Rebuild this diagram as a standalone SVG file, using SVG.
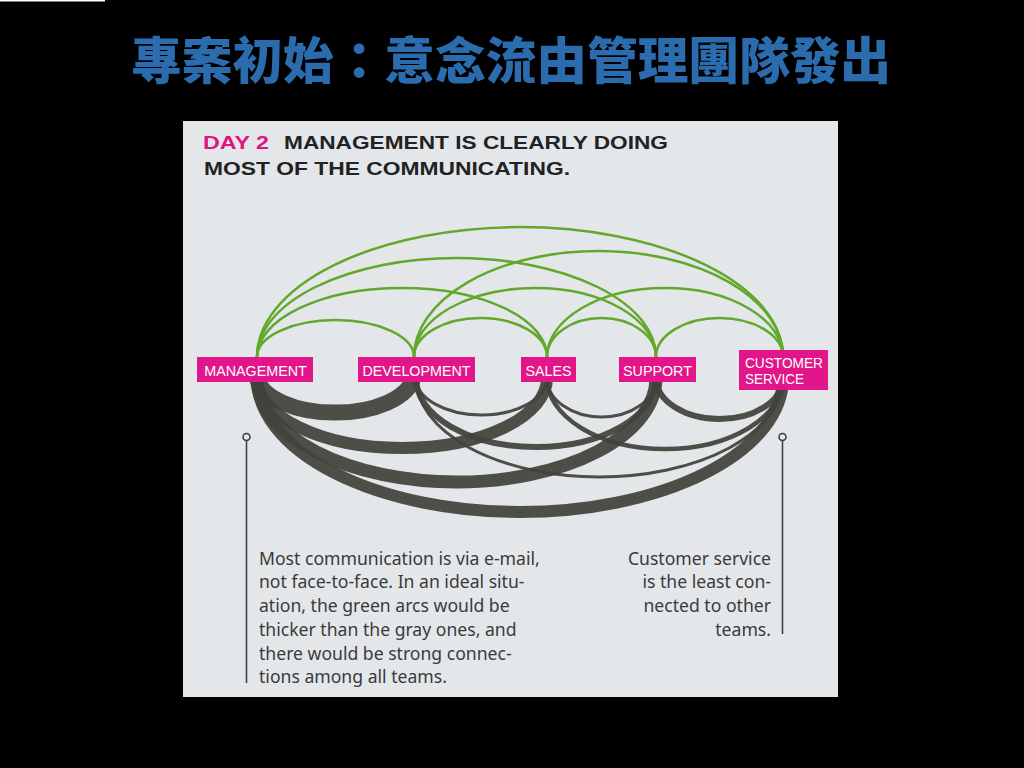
<svg xmlns="http://www.w3.org/2000/svg" width="1024" height="768" viewBox="0 0 1024 768">
<style>
.title{font-family:"Noto Sans CJK TC","Noto Sans CJK SC",sans-serif;font-weight:900;font-size:50px;fill:#2a6cad}
.head{font-family:"Liberation Sans",Arial,sans-serif;font-weight:bold;font-size:18px;fill:#222}
.day{fill:#e0137f}
.lbl{font-family:"Liberation Sans",Arial,sans-serif;font-size:14.3px;fill:#fff;text-anchor:middle}
.box{fill:#e2168a}
.note{font-family:"Noto Sans","Open Sans",sans-serif;font-size:17.6px;fill:#3a3a3a}
.g{fill:none;stroke:#62a82c;stroke-width:2.5}
.k{fill:none;stroke:#43423b;stroke-opacity:0.93}
.pin{fill:none;stroke:#3a3a3a;stroke-width:1.5}
</style>
<rect x="0" y="0" width="1024" height="768" fill="#000"/>
<rect x="0" y="0" width="105" height="1.5" fill="#fff"/>
<text class="title" x="511" y="79" text-anchor="middle" textLength="760" lengthAdjust="spacingAndGlyphs">專案初始：意念流由管理團隊發出</text>
<rect x="183" y="121" width="655" height="576" fill="#e4e7ea"/>
<text class="head" x="203" y="149"><tspan class="day" textLength="66" lengthAdjust="spacingAndGlyphs">DAY 2</tspan><tspan x="284" textLength="384" lengthAdjust="spacingAndGlyphs">MANAGEMENT IS CLEARLY DOING</tspan></text>
<text class="head" x="204" y="174.5" textLength="366" lengthAdjust="spacingAndGlyphs">MOST OF THE COMMUNICATING.</text>
<g id="connectors">
<g id="green">
<path class="g" d="M257 357 A78.5 37 0 0 1 414 357"/>
<path class="g" d="M414 357 A66.5 39 0 0 1 547 357"/>
<path class="g" d="M547 357 A54.5 39 0 0 1 656 357"/>
<path class="g" d="M656 357 A63.5 39 0 0 1 783 357"/>
<path class="g" d="M257 357 A145 69 0 0 1 547 357"/>
<path class="g" d="M414 357 A121 69 0 0 1 656 357"/>
<path class="g" d="M547 357 A118 69 0 0 1 783 357"/>
<path class="g" d="M257 357 A199.5 99 0 0 1 656 357"/>
<path class="g" d="M414 357 A184.5 106 0 0 1 783 357"/>
<path class="g" d="M257 357 A263 130 0 0 1 783 357"/>
</g>
<g id="gray">
<path class="k" stroke-width="16" d="M257 378 A78.5 39 0 0 0 413 378"/>
<path class="k" stroke-width="12" d="M257 378 A145 70 0 0 0 547 378"/>
<path class="k" stroke-width="13" d="M257 378 A199.5 104 0 0 0 656 378"/>
<path class="k" stroke-width="12" d="M257 378 A263 134 0 0 0 783 378"/>
<path class="k" stroke-width="3" d="M416 378 A65.5 37 0 0 0 547 378"/>
<path class="k" stroke-width="6" d="M416 378 A120 69 0 0 0 656 378"/>
<path class="k" stroke-width="3" d="M416 378 A183.5 99 0 0 0 783 378"/>
<path class="k" stroke-width="3" d="M547 378 A54.5 39 0 0 0 656 378"/>
<path class="k" stroke-width="4.5" d="M547 378 A118 71 0 0 0 783 378"/>
<path class="k" stroke-width="6" d="M656 378 A63.5 41 0 0 0 783 378"/>
</g>
</g>
<g id="management"><rect class="box" x="197" y="357" width="116" height="25"/><text class="lbl" x="255.5" y="375.5">MANAGEMENT</text></g>
<g id="development"><rect class="box" x="358" y="357" width="117" height="25"/><text class="lbl" x="416.5" y="375.5">DEVELOPMENT</text></g>
<g id="sales"><rect class="box" x="521" y="357" width="55" height="25"/><text class="lbl" x="548.5" y="375.5">SALES</text></g>
<g id="support"><rect class="box" x="619" y="357" width="77" height="25"/><text class="lbl" x="657.5" y="375.5">SUPPORT</text></g>
<g id="customer-service"><rect class="box" x="739" y="350" width="89" height="40"/><text class="lbl" x="745" y="368" style="text-anchor:start" textLength="78" lengthAdjust="spacingAndGlyphs">CUSTOMER</text><text class="lbl" x="745" y="383.5" style="text-anchor:start" textLength="59" lengthAdjust="spacingAndGlyphs">SERVICE</text></g>
<g id="note-left">
<circle class="pin" cx="246.5" cy="437" r="3.5"/>
<line class="pin" x1="246.5" y1="440.5" x2="246.5" y2="683"/>
<text class="note"><tspan x="259" y="564.5">Most communication is via e-mail,</tspan><tspan x="259" y="588">not face-to-face. In an ideal situ-</tspan><tspan x="259" y="612">ation, the green arcs would be</tspan><tspan x="259" y="635.5">thicker than the gray ones, and</tspan><tspan x="259" y="659.5">there would be strong connec-</tspan><tspan x="259" y="683">tions among all teams.</tspan></text>
</g>
<g id="note-right">
<circle class="pin" cx="782.5" cy="437" r="3.5"/>
<line class="pin" x1="782.5" y1="440.5" x2="782.5" y2="634"/>
<text class="note" text-anchor="end"><tspan x="771" y="564.5">Customer service</tspan><tspan x="771" y="588">is the least con-</tspan><tspan x="771" y="612">nected to other</tspan><tspan x="771" y="635.5">teams.</tspan></text>
</g>
</svg>
